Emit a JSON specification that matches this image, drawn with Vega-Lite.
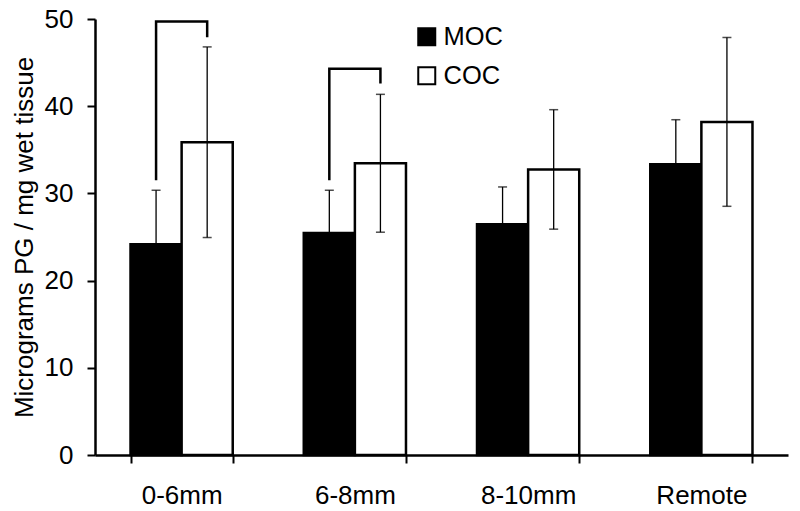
{
  "$schema": "https://vega.github.io/schema/vega-lite/v6.json",
  "width": 693,
  "height": 436,
  "autosize": {"type": "none"},
  "padding": {"left": 95, "top": 19, "right": 12, "bottom": 56},
  "background": "white",
  "config": {
    "font": "Liberation Sans",
    "view": {"stroke": null},
    "axis": {"grid": false, "domainColor": "black", "domainWidth": 2.5, "tickColor": "black", "tickWidth": 2, "tickSize": 8, "labelColor": "black", "titleColor": "black", "labelFontSize": 26, "labelFont": "Liberation Sans", "titleFont": "Liberation Sans"}
  },
  "datasets": {
    "bars": [
      {"cat": "0-6mm", "grp": "MOC", "value": 24.17, "lo": 17.98, "hi": 30.36},
      {"cat": "0-6mm", "grp": "COC", "value": 35.87, "lo": 24.94, "hi": 46.8},
      {"cat": "6-8mm", "grp": "MOC", "value": 25.47, "lo": 20.58, "hi": 30.36},
      {"cat": "6-8mm", "grp": "COC", "value": 33.46, "lo": 25.55, "hi": 41.36},
      {"cat": "8-10mm", "grp": "MOC", "value": 26.46, "lo": 22.18, "hi": 30.74},
      {"cat": "8-10mm", "grp": "COC", "value": 32.75, "lo": 25.9, "hi": 39.6},
      {"cat": "Remote", "grp": "MOC", "value": 33.33, "lo": 28.21, "hi": 38.45},
      {"cat": "Remote", "grp": "COC", "value": 38.2, "lo": 28.52, "hi": 47.88}
    ],
    "brackets": [
      {"id": "b1", "cat": "0-6mm", "grp": "MOC", "y": 31.5, "ord": 1},
      {"id": "b1", "cat": "0-6mm", "grp": "MOC", "y": 49.7, "ord": 2},
      {"id": "b1", "cat": "0-6mm", "grp": "COC", "y": 49.7, "ord": 3},
      {"id": "b1", "cat": "0-6mm", "grp": "COC", "y": 47.9, "ord": 4},
      {"id": "b2", "cat": "6-8mm", "grp": "MOC", "y": 31.5, "ord": 1},
      {"id": "b2", "cat": "6-8mm", "grp": "MOC", "y": 44.3, "ord": 2},
      {"id": "b2", "cat": "6-8mm", "grp": "COC", "y": 44.3, "ord": 3},
      {"id": "b2", "cat": "6-8mm", "grp": "COC", "y": 42.6, "ord": 4}
    ]
  },
  "layer": [
    {
      "data": {"name": "bars"},
      "mark": {"type": "bar", "stroke": "black", "strokeWidth": 2.5},
      "encoding": {
        "x": {"field": "cat", "type": "nominal", "sort": null,
              "scale": {"domain": ["0-6mm", "6-8mm", "8-10mm", "Remote"], "paddingInner": 0.41, "paddingOuter": 0.205},
              "axis": {"title": null, "labelAngle": 0, "tickBand": "extent", "labelPadding": 19}},
        "xOffset": {"field": "grp", "type": "nominal", "scale": {"domain": ["MOC", "COC"], "paddingInner": 0, "paddingOuter": 0}},
        "y": {"field": "value", "type": "quantitative",
              "scale": {"domain": [0, 50], "nice": false},
              "axis": {"title": "Micrograms PG / mg wet tissue", "values": [0, 10, 20, 30, 40, 50], "labelPadding": 14, "titleFontSize": 26, "titleFontWeight": "normal", "titleBaseline": "alphabetic", "titleX": -63}},
        "fill": {"field": "grp", "type": "nominal",
                 "scale": {"domain": ["MOC", "COC"], "range": ["black", "white"]},
                 "legend": {"title": null, "orient": "none", "legendX": 319, "legendY": 5, "symbolType": "square", "symbolSize": 289, "symbolStrokeColor": "black", "symbolStrokeWidth": 2, "labelFontSize": 25.5, "labelColor": "black", "labelOffset": 4, "rowPadding": 12, "padding": 0}}
      }
    },
    {
      "data": {"name": "bars"},
      "mark": {"type": "rule", "color": "black", "strokeWidth": 1.3},
      "encoding": {
        "x": {"field": "cat", "type": "nominal", "sort": null},
        "xOffset": {"field": "grp", "type": "nominal"},
        "y": {"field": "lo", "type": "quantitative"},
        "y2": {"field": "hi"}
      }
    },
    {
      "data": {"name": "bars"},
      "mark": {"type": "tick", "color": "black", "thickness": 1.5, "size": 9, "orient": "horizontal"},
      "encoding": {
        "x": {"field": "cat", "type": "nominal", "sort": null},
        "xOffset": {"field": "grp", "type": "nominal"},
        "y": {"field": "hi", "type": "quantitative"}
      }
    },
    {
      "data": {"name": "bars"},
      "mark": {"type": "tick", "color": "black", "thickness": 1.5, "size": 9, "orient": "horizontal"},
      "encoding": {
        "x": {"field": "cat", "type": "nominal", "sort": null},
        "xOffset": {"field": "grp", "type": "nominal"},
        "y": {"field": "lo", "type": "quantitative"}
      }
    },
    {
      "data": {"name": "brackets"},
      "mark": {"type": "line", "color": "black", "strokeWidth": 2.5, "strokeJoin": "miter"},
      "encoding": {
        "x": {"field": "cat", "type": "nominal", "sort": null},
        "xOffset": {"field": "grp", "type": "nominal"},
        "y": {"field": "y", "type": "quantitative"},
        "detail": {"field": "id"},
        "order": {"field": "ord", "type": "quantitative"}
      }
    }
  ]
}
